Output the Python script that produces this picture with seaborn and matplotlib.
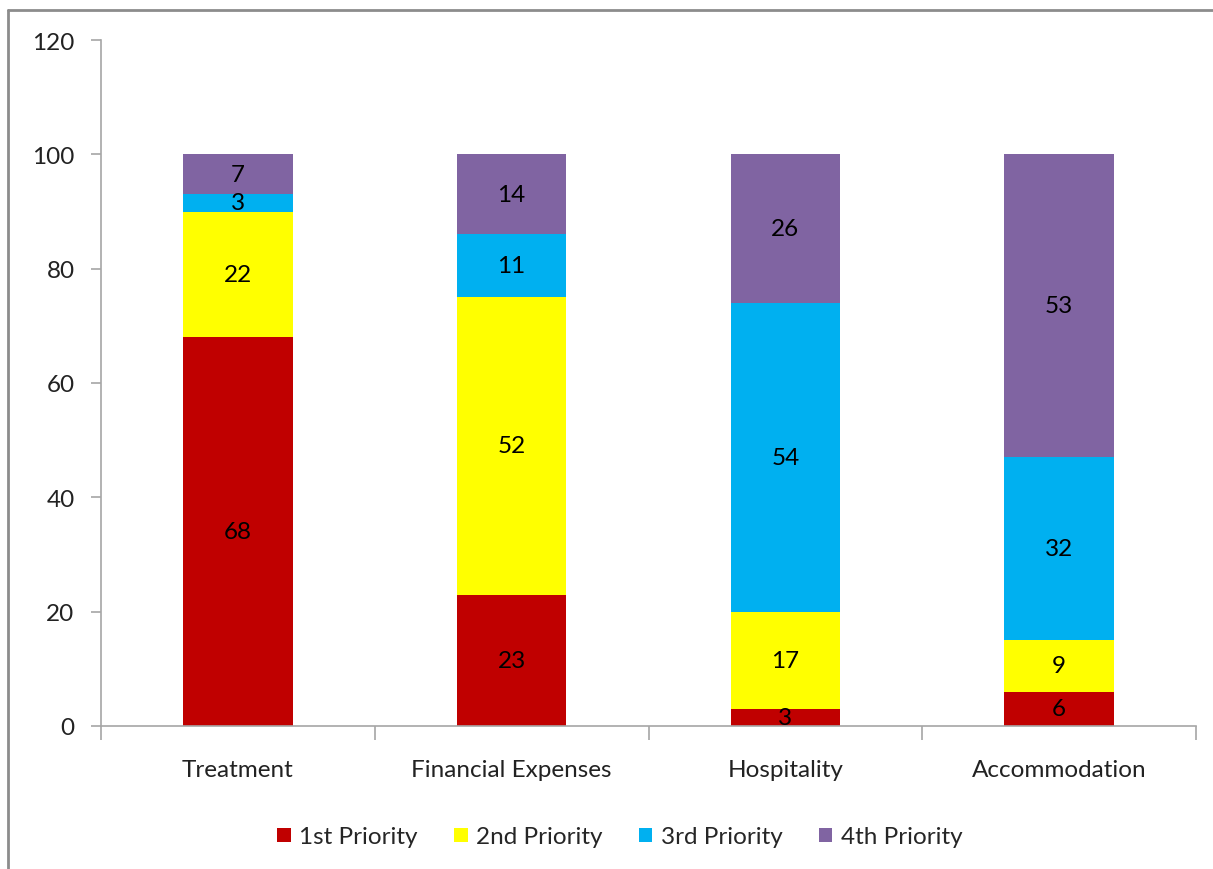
import numpy as np
import pandas as pd
import matplotlib
matplotlib.use("Agg")
import matplotlib.pyplot as plt
import seaborn as sns
from matplotlib.patches import Patch
from matplotlib.lines import Line2D

categories = ["Treatment", "Financial Expenses", "Hospitality", "Accommodation"]
series_names = ["1st Priority", "2nd Priority", "3rd Priority", "4th Priority"]
p1 = [68, 23, 3, 6]
p2 = [22, 52, 17, 9]
p3 = [3, 11, 54, 32]
p4 = [7, 14, 26, 53]
colors = ["#C00000", "#FFFF00", "#00B0F0", "#8064A2"]
yticks = [0, 20, 40, 60, 80, 100, 120]

sns.set_style("white")
plt.rcParams['font.family'] = ['Lato', 'DejaVu Sans']
FS = 17.5

fig = plt.figure(figsize=(12.13, 8.7), dpi=100)
ax = fig.add_axes([101/1213, 1-727/870, (1196-101)/1213, (727-41)/870])

series = [p1, p2, p3, p4]
bottom = np.zeros(len(categories))
for name, vals, col in zip(series_names, series, colors):
    df = pd.DataFrame({"cat": categories, "val": vals})
    sns.barplot(data=df, x="cat", y="val", color=col, width=0.4, bottom=bottom,
                ax=ax, saturation=1, edgecolor="none", linewidth=0)
    cont = ax.containers[-1]
    ax.bar_label(cont, labels=[str(v) for v in vals], label_type="center",
                 fontsize=FS, color="black")
    bottom = bottom + np.array(vals)

ax.set_xlim(-0.5, 3.5)
ax.set_ylim(0, 120)
ax.set_yticks(yticks)
ax.set_yticklabels([str(t) for t in yticks])
ax.set_xlabel("")
ax.set_ylabel("")
for s in ["top", "right"]:
    ax.spines[s].set_visible(False)
for s in ["left", "bottom"]:
    ax.spines[s].set_color("#A6A6A6")
    ax.spines[s].set_linewidth(1.2)
ax.tick_params(axis="y", length=7, width=1.2, color="#A6A6A6", labelsize=FS, pad=12,
               left=True, labelcolor="#222222")
ax.tick_params(axis="x", length=0, labelsize=FS, pad=24, labelcolor="#222222")
ax.set_xticks([-0.5, 0.5, 1.5, 2.5, 3.5], minor=True)
ax.tick_params(axis="x", which="minor", length=10, width=1.2, color="#A6A6A6", bottom=True)

handles = [Patch(facecolor=c, edgecolor="none") for c in colors]
fig.legend(handles, series_names, loc="center", bbox_to_anchor=(620/1213, 1-838/870),
           ncol=4, frameon=False, fontsize=FS, handlelength=0.55, handleheight=0.55,
           columnspacing=1.5, handletextpad=0.35)

fig.add_artist(Line2D([8/1213, 8/1213], [0, 1-11/870], color="#8C8C8C", lw=2))
fig.add_artist(Line2D([8/1213, 1], [1-11/870, 1-11/870], color="#8C8C8C", lw=2))

fig.savefig("out.png", dpi=100)
